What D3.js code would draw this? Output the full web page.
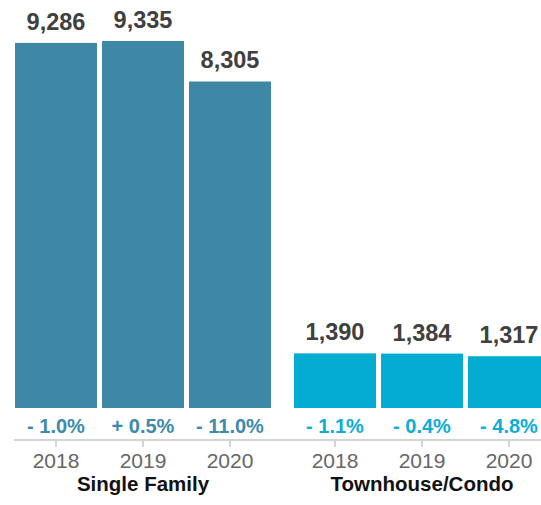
<!DOCTYPE html>
<html>
<head>
<meta charset="utf-8">
<script src="https://cdn.jsdelivr.net/npm/d3@7"></script>
<style>
  html, body { margin: 0; padding: 0; background: #fff; overflow: hidden; }
  svg { display: block; font-family: "Liberation Sans", Arial, Helvetica, sans-serif; }
</style>
</head>
<body>
<svg id="chart" width="541" height="505"></svg>
<script>
const groups = ["Single Family", "Townhouse/Condo"];
const years = ["2018", "2019", "2020"];
const singleFamily = [9286, 9335, 8305];
const townhouseCondo = [1390, 1384, 1317];
const singleFamilyChange = ["- 1.0%", "+ 0.5%", "- 11.0%"];
const townhouseCondoChange = ["- 1.1%", "- 0.4%", "- 4.8%"];
const groupColors = ["#3f88a5", "#04acd1"];
const changeColors = ["#3d8aab", "#0aaed4"];

const values = [singleFamily, townhouseCondo];
const changes = [singleFamilyChange, townhouseCondoChange];
const data = [];
groups.forEach((g, gi) => years.forEach((y, yi) => data.push({
  group: g, gi, year: y, value: values[gi][yi], change: changes[gi][yi]
})));

const svg = d3.select("#chart");
const baseY = 408;
const x0 = d3.scaleBand().domain(groups).range([15, 550]).paddingInner(23 / 279);
const x1 = d3.scaleBand().domain(years).range([0, x0.bandwidth()]).paddingInner(5 / 87);
const y = d3.scaleLinear().domain([0, 9335]).range([baseY, 41]);

// axis line
svg.append("line")
  .attr("x1", 14).attr("x2", 541).attr("y1", 440).attr("y2", 440)
  .attr("stroke", "#d4d4d4").attr("stroke-width", 2);

const g = svg.selectAll("g.grp").data(groups).join("g")
  .attr("class", "grp")
  .attr("transform", d => `translate(${x0(d)},0)`);

const items = g.selectAll("g.item").data(gname => data.filter(d => d.group === gname)).join("g")
  .attr("class", "item");

items.append("rect")
  .attr("x", d => x1(d.year))
  .attr("y", d => y(d.value))
  .attr("width", x1.bandwidth())
  .attr("height", d => baseY - y(d.value))
  .attr("fill", d => groupColors[d.gi]);

items.append("text")
  .attr("x", d => x1(d.year) + x1.bandwidth() / 2)
  .attr("y", d => y(d.value) - 13)
  .attr("text-anchor", "middle")
  .attr("font-size", 23.5).attr("font-weight", "bold")
  .attr("fill", "#404040")
  .text(d => d3.format(",")(d.value));

items.append("text")
  .attr("x", d => x1(d.year) + x1.bandwidth() / 2)
  .attr("y", 433)
  .attr("text-anchor", "middle")
  .attr("font-size", 20).attr("font-weight", "bold")
  .attr("fill", d => changeColors[d.gi])
  .text(d => d.change);

items.append("line")
  .attr("x1", d => x1(d.year) + x1.bandwidth() / 2)
  .attr("x2", d => x1(d.year) + x1.bandwidth() / 2)
  .attr("y1", 440).attr("y2", 447)
  .attr("stroke", "#d4d4d4").attr("stroke-width", 2);

items.append("text")
  .attr("x", d => x1(d.year) + x1.bandwidth() / 2)
  .attr("y", 468)
  .attr("text-anchor", "middle")
  .attr("font-size", 21)
  .attr("fill", "#666")
  .text(d => d.year);

g.append("text")
  .attr("x", x0.bandwidth() / 2)
  .attr("y", 491)
  .attr("text-anchor", "middle")
  .attr("font-size", 20.5).attr("font-weight", "bold")
  .attr("fill", "#111")
  .text(d => d);
</script>
</body>
</html>
